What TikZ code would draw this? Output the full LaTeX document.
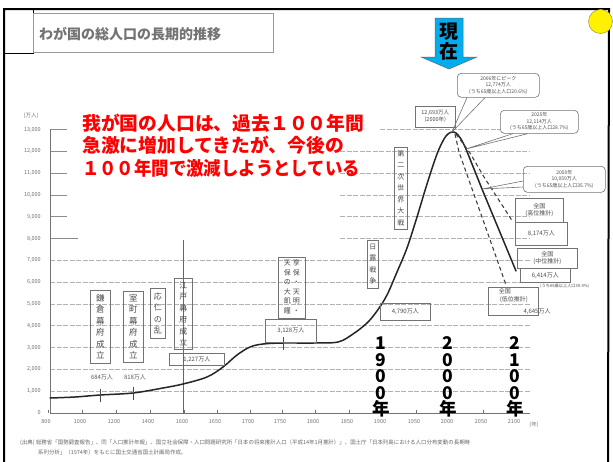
\documentclass[tikz,border=0pt]{standalone}
\usepackage{fontspec}
\setmainfont{Noto Sans CJK JP}
\usetikzlibrary{calc}
\begin{document}
\begin{tikzpicture}[x=1pt,y=-1pt,
  frameln/.style={line width=2pt, black},
  gridln/.style={black!30, line width=0.7pt, dash pattern=on 5pt off 1.5pt},
  ticklbl/.style={font=\fontsize{5.5}{6}\selectfont, text=black!55, inner sep=0pt},
  chartline/.style={line width=1.5pt, black!85, line cap=round, line join=round},
  projdash/.style={line width=1.1pt, black!75, dash pattern=on 4pt off 3pt},
  evbox/.style={draw=black!55, line width=0.6pt, inner sep=0pt, align=center, text=black!70, anchor=north west, font=\fontsize{8.5}{11.5}\selectfont},
  popbox/.style={draw=black!55, line width=0.6pt, inner sep=0pt, align=center, text=black!70, anchor=north west, font=\fontsize{6}{7.5}\selectfont},
  bubble/.style={draw=black!55, line width=0.6pt, rounded corners=4pt, inner sep=0pt, align=center, text=black!70, anchor=north west, font=\fontsize{5}{6.5}\selectfont},
  ptr/.style={black!55, line width=0.6pt},
  redtxt/.style={text=red, font=\bfseries\fontsize{18.8}{20}\selectfont, anchor=west, inner sep=0pt},
  yearlbl/.style={font=\bfseries\fontsize{17.5}{16.5}\selectfont, align=center, inner sep=0pt},
  smalltxt/.style={font=\fontsize{6}{7}\selectfont, text=black!65, inner sep=0pt},
  srctxt/.style={font=\fontsize{5.45}{7}\selectfont, text=black!60, anchor=west, inner sep=0pt},
]
\useasboundingbox (0,0) rectangle (613,461);
\fill[white] (0,0) rectangle (613,461);

% frame
\draw[frameln] (4,462) -- (4,9) -- (609,9) -- (608,462);
\node[draw, line width=0.8pt, minimum width=29pt, minimum height=44pt, anchor=north west, inner sep=0pt] (corner) at (4,9) {};
\node[draw=black!40, line width=0.8pt, minimum width=240pt, minimum height=39pt, anchor=north west, inner sep=0pt] (titlebox) at (33,13) {};
\node[font=\bfseries\fontsize{14}{14}\selectfont, text=black!55, anchor=west, inner sep=0pt] (title) at (39,34) {わが国の総人口の長期的推移};

% grid and axes
\foreach \k in {1,...,7} \draw[gridln] (50,{413-21.8*\k}) -- (530,{413-21.8*\k});
\foreach \k in {9,...,13} \draw[black!45, line width=0.7pt] (50,{413-21.8*\k}) -- (67,{413-21.8*\k});
\draw[black!45, line width=0.7pt] (50,{413-21.8*8}) -- (78,{413-21.8*8});
\foreach \k in {8,...,12} \draw[gridln] (340,{413-21.8*\k}) -- (530,{413-21.8*\k});
\draw[gridln] (380,{413-21.8*13}) -- (500,{413-21.8*13});
\draw[black!55, line width=0.8pt] (50,129) -- (50,413) -- (530,413);
\foreach \k/\t in {0/0,1/{1,000},2/{2,000},3/{3,000},4/{4,000},5/{5,000},6/{6,000},7/{7,000},8/{8,000},9/{9,000},10/{10,000},11/{11,000},12/{12,000},13/{13,000}}
  \node[ticklbl, anchor=east] (yl\k) at (41,{413-21.8*\k}) {\t};
\node[ticklbl] (unit) at (31,116) {(万人)};
\foreach \x/\t [count=\i] in {46/800,80/1000,114/1200,148/1400,182/1600,215/1650,248/1700,280/1750,313/1800,347/1850,380/1900,414/1950,447/2000,481/2050,514/2100}
  {\node[ticklbl] (xl\i) at (\x,422) {\t};
   \draw[black!55, line width=0.5pt] (\x+2,413) -- (\x+2,410);}
\node[ticklbl] (nen) at (534,425) {(年)};
\draw[black!60, line width=0.7pt] (183,240) -- (183,413);

% population curve
\coordinate (peak) at (452,132);
\coordinate (c2025) at (466,149);
\coordinate (c2050) at (482,189);
\coordinate (c2100m) at (516,271);
\draw[chartline] plot[smooth, tension=0.55] coordinates {(50,398) (75,397) (100,395) (133,393) (163,388) (183,384) (207,377) (223,367) (237,355) (250,347) (263,344) (283,343) (313,343) (338,342) (353,334) (367,323) (377,311) (387,295) (397,272) (407,248) (417,217) (427,184) (437,154) (444,139) (448,134) (452,132) (456,133) (461,139) (466,149)};
\draw[chartline] (c2025) -- (c2050) -- (c2100m);
\draw[projdash] (456,134) -- (470,153) -- (484,177) -- (513,222);
\draw[projdash] (455,134) -- (459,152) -- (506,285);
\foreach \x/\a/\b in {100/389/402,133/387/400,283/337/350}
  \draw[black!70, line width=0.7pt] (\x,\a) -- (\x,\b);

% event boxes
\node[evbox, minimum width=20pt, minimum height=73pt] (kamakura) at (90,290) {鎌\\倉\\幕\\府\\成\\立};
\node[evbox, minimum width=20pt, minimum height=71pt] (muromachi) at (123,291) {室\\町\\幕\\府\\成\\立};
\node[evbox, minimum width=15pt, minimum height=50pt, font=\fontsize{8}{11.5}\selectfont] (onin) at (150,288) {応\\仁\\の\\乱};
\node[evbox, minimum width=18pt, minimum height=71pt, font=\fontsize{8}{11.5}\selectfont] (edo) at (174,278) {江\\戸\\幕\\府\\成\\立};
\node[evbox, minimum width=27pt, minimum height=61pt, font=\fontsize{7}{9.5}\selectfont] (kyoho) at (278,257)
  {\begin{tabular}{@{}c@{\hspace{2pt}}c@{}}天&享\\保&保\\の&・\\大&天\\飢&明\\饉&・\end{tabular}};
\node[evbox, minimum width=11pt, minimum height=48pt, font=\fontsize{7}{11.5}\selectfont] (nichiro) at (367,240) {日\\露\\戦\\争};
\node[evbox, minimum width=13pt, minimum height=82pt, font=\fontsize{7}{11.5}\selectfont] (ww2) at (394,147) {第\\二\\次\\世\\界\\大\\戦};

% population boxes
\node[smalltxt] (p1150) at (102,377) {684万人};
\node[smalltxt] (p1338) at (135,377) {818万人};
\node[popbox, minimum width=55pt, minimum height=12pt] (p1600) at (169,353) {1,227万人};
\node[popbox, minimum width=51pt, minimum height=23pt] (p1721) at (265,319) {3,128万人};
\node[popbox, minimum width=50pt, minimum height=17pt] (p1900) at (380,303) {4,790万人};
\node[popbox, minimum width=40pt, minimum height=21pt, font=\fontsize{5.5}{7}\selectfont] (p2000) at (415,106) {12,693万人\\(2000年)};
\node[popbox, minimum width=48pt, minimum height=24pt] (hi1) at (515,198) {全国\\(高位推計)};
\node[popbox, minimum width=52pt, minimum height=23pt] (hi2) at (515,222) {8,174万人};
\node[popbox, minimum width=60pt, minimum height=20pt] (mid1) at (517,248) {全国\\(中位推計)};
\node[popbox, minimum width=50pt, minimum height=14pt] (mid2) at (520,268) {6,414万人};
\node[font=\fontsize{4.2}{5}\selectfont, text=black!70, anchor=west, inner sep=0pt] (mid3) at (540,286) {(うち65歳以上人口35.9\%)};
\node[popbox, minimum width=50pt, minimum height=28pt, align=left] (low1) at (488,287) {全国\\\,(低位推計)\\[5pt]};
\node[smalltxt, text=black!70] (low2) at (537,312) {4,645万人};

% speech bubbles
\node[bubble, minimum width=82pt, minimum height=24pt] (bpeak) at (457,73) {2006年にピーク\\12,774万人\\(うち65歳以上人口20.6\%)};
\node[bubble, minimum width=78pt, minimum height=23pt] (b2025) at (500,110) {2025年\\12,114万人\\(うち65歳以上人口28.7\%)};
\node[bubble, minimum width=82pt, minimum height=26pt] (b2050) at (523,166) {2050年\\10,059万人\\(うち65歳以上人口35.7\%)};
\draw[ptr] ($(bpeak.south west)+(10,0)$) -- (peak) -- ($(bpeak.south west)+(28,0)$);
\draw[ptr] ($(b2025.south west)+(13,0)$) -- (c2025) -- ($(b2025.south west)+(28,0)$);
\draw[ptr] ($(b2050.north west)+(0,15)$) -- (c2050) -- ($(b2050.north west)+(0,21)$);

% red message
\node[redtxt] (msg1) at (82,123) {我が国の人口は、過去１００年間};
\node[redtxt] (msg2) at (82,145) {急激に増加してきたが、今後の};
\node[redtxt] (msg3) at (82,168) {\scalebox{0.925}[1]{１００年間で激減しようとしている}};

% "now" arrow
\draw[fill=cyan, draw=black!60, line width=0.5pt] (435,18) -- (463,18) -- (463,57) -- (477,57) -- (449,69) -- (421,57) -- (435,57) -- cycle;
\node[font=\bfseries\fontsize{19}{19}\selectfont, inner sep=0pt] (gen) at (449,32) {現};
\node[font=\bfseries\fontsize{19}{19}\selectfont, inner sep=0pt] (zai) at (449,51) {在};

% year labels
\node[yearlbl] (yr1900) at (381,377) {1\\9\\0\\0\\年};
\node[yearlbl] (yr2000) at (448,377) {2\\0\\0\\0\\年};
\node[yearlbl] (yr2100) at (515,377) {2\\1\\0\\0\\年};

% source note
\node[srctxt] (src1) at (20,443) {(出典) 総務省「国勢調査報告」、同「人口推計年報」、国立社会保障・人口問題研究所「日本の将来推計人口（平成14年1月推計）」、国土庁「日本列島における人口分布変動の長期時};
\node[srctxt] (src2) at (38,452) {系列分析」（1974年）をもとに国土交通省国土計画局作成。};

% yellow dot
\draw[fill=yellow, draw=black!40!yellow, line width=0.6pt] (600.5,21.5) circle (12pt);
\end{tikzpicture}
\end{document}
